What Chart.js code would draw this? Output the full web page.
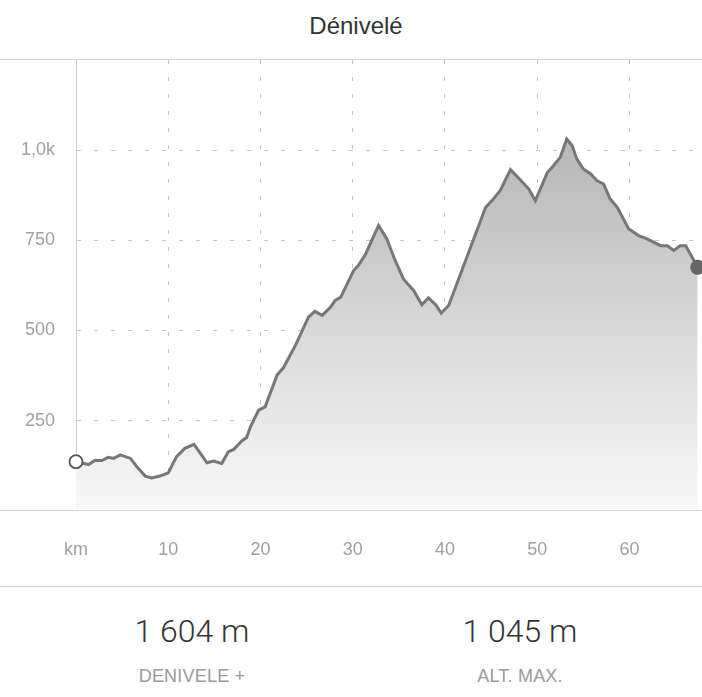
<!DOCTYPE html>
<html>
<head>
<meta charset="utf-8">
<script src="https://cdn.jsdelivr.net/npm/chart.js@4/dist/chart.umd.min.js"></script>
<style>
  html, body { margin: 0; padding: 0; background: #fff; }
  body { width: 702px; height: 697px; position: relative; overflow: hidden; font-family: "Liberation Sans", Arial, sans-serif; }
  #title { position: absolute; top: 12px; left: 0; width: 712px; text-align: center; font-size: 24px; color: #333; }
  .hline { position: absolute; left: 0; width: 702px; height: 1px; background: #d2d2d2; z-index: 3; }
  #wrap { position: absolute; left: 0; top: 0; width: 702px; height: 586px; }
  .stat { position: absolute; width: 300px; text-align: center; }
  .val { font-family: Roboto, "Liberation Sans", sans-serif; font-weight: 300; font-size: 32px; color: #333; position: absolute; top: 612px; }
  .lab { font-size: 18px; color: #9a9a9a; position: absolute; top: 666px; letter-spacing: 0.2px; }
</style>
</head>
<body>
<div id="title">Dénivelé</div>
<div class="hline" style="top:59px"></div>
<div id="wrap"><canvas id="c"></canvas></div>
<div class="hline" style="top:510px"></div>
<div class="hline" style="top:586px"></div>
<div class="stat val" style="left:42px">1 604 m</div>
<div class="stat lab" style="left:42px">DENIVELE +</div>
<div class="stat val" style="left:370px">1 045 m</div>
<div class="stat lab" style="left:370px">ALT. MAX.</div>
<script>
// distance (km)
const distanceKm = [0, 1.36, 2.08, 2.8, 3.5, 4.07, 4.8, 5.9, 6.6, 7.5, 8.2, 9.1, 10.0, 10.9, 11.8, 12.8,
  14.2, 14.9, 15.8, 16.5, 17.1, 18.0, 18.5, 18.9, 19.8, 20.5, 21.8, 22.5, 23.8, 25.2, 25.9, 26.7,
  27.6, 28.1, 28.7, 29.4, 30.1, 30.6, 31.4, 32.8, 33.7, 34.6, 35.5, 36.1, 36.6, 37.5, 38.2, 39.0,
  39.6, 40.4, 44.4, 45.1, 46.0, 47.1, 48.0, 49.1, 49.8, 51.1, 51.6, 52.5, 53.2, 53.8, 54.3, 55.0,
  55.8, 56.5, 57.2, 57.9, 58.7, 59.9, 61.0, 61.9, 63.4, 64.1, 64.8, 65.5, 66.1, 67.4];
// altitude (m)
const altitudeM = [136, 128, 140, 139, 148, 145, 155, 145, 122, 96, 91, 96, 105, 150, 173, 184,
  133, 138, 131, 163, 170, 194, 203, 232, 279, 288, 376, 397, 459, 537, 553, 542,
  565, 583, 592, 629, 666, 680, 712, 791, 754, 694, 643, 625, 611, 571, 590, 571,
  548, 569, 841, 860, 888, 946, 922, 892, 860, 938, 952, 980, 1031, 1012, 975, 948,
  934, 915, 906, 865, 841, 782, 763, 754, 735, 735, 722, 735, 735, 675];
const xTickValues = [0, 10, 20, 30, 40, 50, 60];
const xTickLabels = ['km', '10', '20', '30', '40', '50', '60'];
const yTickValues = [250, 500, 750, 1000];
const yTickLabels = ['250', '500', '750', '1,0k'];
const xMin = 0, xMax = 67.4, yMin = 0, yMax = 1250;

const points = distanceKm.map((d, i) => ({ x: d, y: altitudeM[i] }));
const lastIdx = points.length - 1;
const tickFont = { family: '"Liberation Sans", Arial, sans-serif', size: 18 };

new Chart(document.getElementById('c'), {
  type: 'line',
  data: {
    datasets: [{
      data: points,
      borderColor: '#777777',
      borderWidth: 3,
      tension: 0,
      clip: false,
      fill: 'origin',
      backgroundColor: (ctx) => {
        const ca = ctx.chart.chartArea;
        if (!ca) return '#ddd';
        const g = ctx.chart.ctx.createLinearGradient(0, ca.top, 0, ca.bottom);
        g.addColorStop(0, '#a8a8a8');
        g.addColorStop(1, '#f9f9f9');
        return g;
      },
      pointRadius: (ctx) => (ctx.dataIndex === 0 ? 6.5 : (ctx.dataIndex === lastIdx ? 7.5 : 0)),
      pointBackgroundColor: (ctx) => (ctx.dataIndex === 0 ? '#ffffff' : '#666666'),
      pointBorderColor: (ctx) => (ctx.dataIndex === 0 ? '#555555' : '#666666'),
      pointBorderWidth: (ctx) => (ctx.dataIndex === 0 ? 1.8 : 0),
      pointHoverRadius: 0
    }]
  },
  options: {
    responsive: true,
    maintainAspectRatio: false,
    animation: false,
    events: [],
    layout: { autoPadding: false, padding: { top: 60, right: 4.3, left: 0, bottom: 0 } },
    plugins: { legend: { display: false }, tooltip: { enabled: false } },
    scales: {
      x: {
        type: 'linear',
        min: xMin, max: xMax,
        afterFit: (s) => { s.height = 75.3; },
        afterBuildTicks: (s) => { s.ticks = xTickValues.map(v => ({ value: v })); },
        ticks: {
          padding: 29,
          color: '#a0a0a0',
          font: tickFont,
          maxRotation: 0,
          autoSkip: false,
          callback: (v) => { const i = xTickValues.indexOf(v); return i >= 0 ? xTickLabels[i] : ''; }
        },
        grid: {
          drawTicks: false,
          tickLength: 0,
          color: (ctx) => (ctx.tick && ctx.tick.value === 0 ? 'rgba(0,0,0,0)' : '#c4c4c4'),
          lineWidth: 1
        },
        border: { display: false, dash: [4, 13] }
      },
      y: {
        type: 'linear',
        min: yMin, max: yMax,
        afterFit: (s) => { s.width = 76; },
        afterBuildTicks: (s) => { s.ticks = yTickValues.map(v => ({ value: v })); },
        ticks: {
          padding: 21,
          color: '#a0a0a0',
          font: tickFont,
          autoSkip: false,
          callback: (v) => { const i = yTickValues.indexOf(v); return i >= 0 ? yTickLabels[i] : ''; }
        },
        grid: {
          drawTicks: false,
          tickLength: 0,
          color: '#c4c4c4',
          lineWidth: 1
        },
        border: { display: true, color: '#cfcfcf', width: 1, dash: [4, 13] }
      }
    }
  }
});
</script>
</body>
</html>
